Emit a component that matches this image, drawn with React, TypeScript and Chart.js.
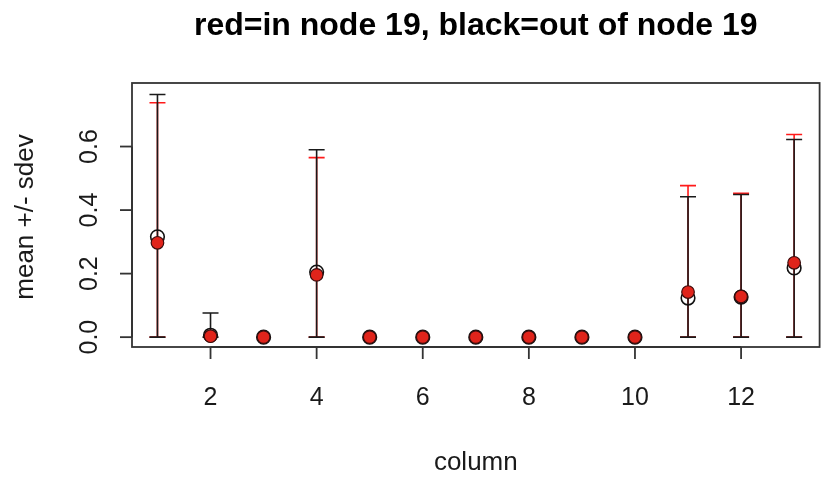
import React, { useEffect, useRef } from "react";
import { Chart, registerables } from "chart.js";

Chart.register(...registerables);

const columns = [1, 2, 3, 4, 5, 6, 7, 8, 9, 10, 11, 12, 13];
const outMean = [0.316, 0.006, 0, 0.205, 0, 0, 0, 0, 0, 0, 0.123, 0.126, 0.218];
const outUpper = [0.764, 0.076, 0, 0.59, 0, 0, 0, 0, 0, 0, 0.442, 0.449, 0.622];
const outLower = [0, 0, 0, 0, 0, 0, 0, 0, 0, 0, 0, 0, 0];
const inMean = [0.297, 0.003, 0, 0.196, 0, 0, 0, 0, 0, 0, 0.142, 0.128, 0.234];
const inUpper = [0.738, 0.004, 0, 0.565, 0, 0, 0, 0, 0, 0, 0.477, 0.453, 0.638];
const inLower = [0, 0, 0, 0, 0, 0, 0, 0, 0, 0, 0, 0, 0];
const xTicks = [2, 4, 6, 8, 10, 12];
const yTicks = [0, 0.2, 0.4, 0.6];
const yTickLabels = ["0.0", "0.2", "0.4", "0.6"];
const titleText = "red=in node 19, black=out of node 19";
const xTitle = "column";
const yTitle = "mean +/- sdev";

const FONT = '"Liberation Sans", Arial, Helvetica, sans-serif';

const rPlotPlugin = {
  id: "rPlot",
  beforeDatasetsDraw(chart: any) {
    const ctx = chart.ctx;
    const xs = chart.scales.x;
    const ys = chart.scales.y;
    const drawBars = (up: number[], lo: number[], color: string) => {
      ctx.save();
      ctx.strokeStyle = color;
      ctx.lineWidth = 1.6;
      columns.forEach((c, i) => {
        const x = xs.getPixelForValue(c);
        const yu = ys.getPixelForValue(up[i]);
        const yl = ys.getPixelForValue(lo[i]);
        if (Math.abs(yl - yu) < 3) return;
        ctx.beginPath();
        ctx.moveTo(x, yl);
        ctx.lineTo(x, yu);
        ctx.moveTo(x - 8, yu);
        ctx.lineTo(x + 8, yu);
        ctx.moveTo(x - 8, yl);
        ctx.lineTo(x + 8, yl);
        ctx.stroke();
      });
      ctx.restore();
    };
    drawBars(inUpper, inLower, "#ff1a1a");
    drawBars(outUpper, outLower, "#1a1a1a");
  },
  afterDraw(chart: any) {
    const ctx = chart.ctx;
    const a = chart.chartArea;
    const xs = chart.scales.x;
    const ys = chart.scales.y;
    ctx.save();
    ctx.strokeStyle = "#333";
    ctx.lineWidth = 1.8;
    ctx.strokeRect(a.left, a.top, a.right - a.left, a.bottom - a.top);
    ctx.fillStyle = "#1a1a1a";
    // x axis
    const x0 = xs.getPixelForValue(xTicks[0]);
    const x1 = xs.getPixelForValue(xTicks[xTicks.length - 1]);
    ctx.beginPath();
    ctx.moveTo(x0, a.bottom);
    ctx.lineTo(x1, a.bottom);
    ctx.stroke();
    ctx.font = `25px ${FONT}`;
    ctx.textAlign = "center";
    ctx.textBaseline = "alphabetic";
    xTicks.forEach((t) => {
      const x = xs.getPixelForValue(t);
      ctx.beginPath();
      ctx.moveTo(x, a.bottom);
      ctx.lineTo(x, a.bottom + 12);
      ctx.stroke();
      ctx.fillText(String(t), x, 405);
    });
    // y axis
    const y0 = ys.getPixelForValue(yTicks[0]);
    const y1 = ys.getPixelForValue(yTicks[yTicks.length - 1]);
    ctx.beginPath();
    ctx.moveTo(a.left, y0);
    ctx.lineTo(a.left, y1);
    ctx.stroke();
    yTicks.forEach((t, i) => {
      const y = ys.getPixelForValue(t);
      ctx.beginPath();
      ctx.moveTo(a.left, y);
      ctx.lineTo(a.left - 12, y);
      ctx.stroke();
      ctx.save();
      ctx.translate(97, y);
      ctx.rotate(-Math.PI / 2);
      ctx.fillText(yTickLabels[i], 0, 0);
      ctx.restore();
    });
    // titles
    const cx = (a.left + a.right) / 2;
    ctx.font = `bold 32px ${FONT}`;
    ctx.fillStyle = "#000";
    ctx.fillText(titleText, cx, 35);
    ctx.font = `26px ${FONT}`;
    ctx.fillStyle = "#1a1a1a";
    ctx.fillText(xTitle, cx, 470);
    ctx.save();
    ctx.translate(33, (a.top + a.bottom) / 2 + 2);
    ctx.rotate(-Math.PI / 2);
    ctx.fillText(yTitle, 0, 0);
    ctx.restore();
    ctx.restore();
  },
};

export default function App() {
  const ref = useRef<HTMLCanvasElement>(null);
  useEffect(() => {
    if (!ref.current) return;
    const chart = new Chart(ref.current, {
      type: "scatter",
      data: {
        datasets: [
          {
            label: "in node 19",
            data: columns.map((c, i) => ({ x: c, y: inMean[i] })),
            backgroundColor: "#e0241b",
            borderColor: "#3a0d0d",
            borderWidth: 1.2,
            pointRadius: 6.3,
            order: 0,
          },
          {
            label: "out of node 19",
            data: columns.map((c, i) => ({ x: c, y: outMean[i] })),
            backgroundColor: "rgba(0,0,0,0)",
            borderColor: "#111",
            borderWidth: 1.6,
            pointRadius: 6.8,
            order: 1,
          },
        ],
      },
      options: {
        animation: false,
        responsive: false,
        devicePixelRatio: 1,
        layout: { padding: { left: 132, right: 7, top: 83, bottom: 131 } },
        plugins: { legend: { display: false }, tooltip: { enabled: false } },
        scales: {
          x: { type: "linear", display: false, min: 0.52, max: 13.48 },
          y: { type: "linear", display: false, min: -0.031, max: 0.8 },
        },
      },
      plugins: [rPlotPlugin],
    });
    return () => chart.destroy();
  }, []);
  return (
    <div style={{ position: "fixed", left: 0, top: 0, width: 828, height: 478, background: "#fff" }}>
      <canvas ref={ref} width={828} height={478} style={{ display: "block" }} />
    </div>
  );
}
